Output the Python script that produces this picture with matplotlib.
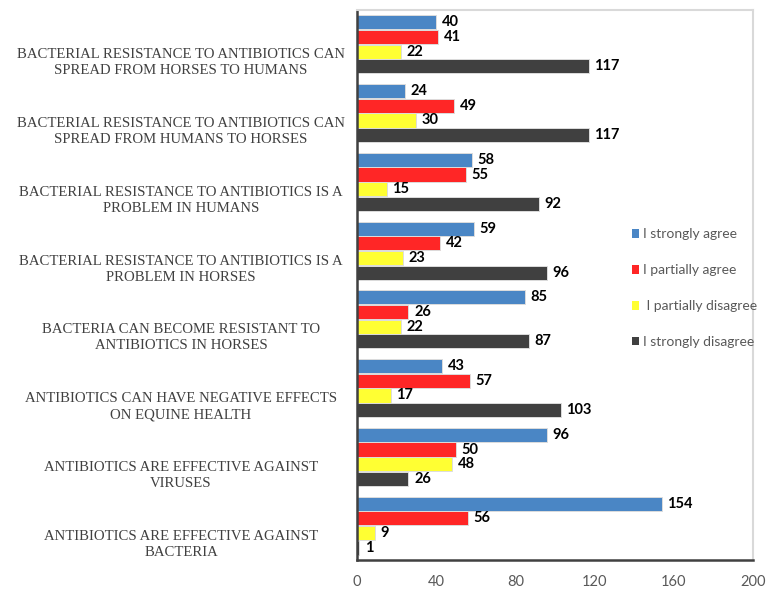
import matplotlib
matplotlib.use("Agg")
import matplotlib.pyplot as plt
import numpy as np
from matplotlib.patches import Patch
from matplotlib.transforms import blended_transform_factory

categories = [
    "BACTERIAL RESISTANCE TO ANTIBIOTICS CAN\nSPREAD FROM HORSES TO HUMANS",
    "BACTERIAL RESISTANCE TO ANTIBIOTICS CAN\nSPREAD FROM HUMANS TO HORSES",
    "BACTERIAL RESISTANCE TO ANTIBIOTICS IS A\nPROBLEM IN HUMANS",
    "BACTERIAL RESISTANCE TO ANTIBIOTICS IS A\nPROBLEM IN HORSES",
    "BACTERIA CAN BECOME RESISTANT TO\nANTIBIOTICS IN HORSES",
    "ANTIBIOTICS CAN HAVE NEGATIVE EFFECTS\nON EQUINE HEALTH",
    "ANTIBIOTICS ARE EFFECTIVE AGAINST\nVIRUSES",
    "ANTIBIOTICS ARE EFFECTIVE AGAINST\nBACTERIA",
]
strongly_agree = [40, 24, 58, 59, 85, 43, 96, 154]
partially_agree = [41, 49, 55, 42, 26, 57, 50, 56]
partially_disagree = [22, 30, 15, 23, 22, 17, 48, 9]
strongly_disagree = [117, 117, 92, 96, 87, 103, 26, 1]
series_names = ["I strongly agree", "I partially agree", " I partially disagree", "I strongly disagree"]
colors = ["#4a86c5", "#ff2626", "#ffff33", "#404040"]
xticks = [0, 40, 80, 120, 160, 200]

fig = plt.figure(figsize=(7.74, 6.01), dpi=100)
ax = fig.add_axes([357/774, 1 - 560/601, (753-357)/774, (560-10)/601])

series = [strongly_agree, partially_agree, partially_disagree, strongly_disagree]
n = len(categories)
y = np.arange(n)
pitch = 0.2135
h = 0.205
for i, (vals, col) in enumerate(zip(series, colors)):
    pos = y - 1.5 * pitch + i * pitch
    bars = ax.barh(pos, vals, height=h, color=col, edgecolor="#dcdcdc", linewidth=0.7)
    for b, v in zip(bars, vals):
        ax.annotate(str(v), (v, b.get_y() + b.get_height() / 2), xytext=(4, 0),
                    textcoords="offset points", va="center", ha="left",
                    fontsize=10.5, fontweight="bold", family="Lato", color="black")

ax.set_ylim(n - 0.5, -0.5)
ax.set_xlim(0, 200)
ax.set_xticks(xticks)
ax.set_xticklabels([str(t) for t in xticks], family="Lato", fontsize=10.5, color="#595959")
ax.tick_params(axis="x", length=0, pad=11)
ax.set_yticks([])

for s in ["left", "bottom"]:
    ax.spines[s].set_color("#404040")
    ax.spines[s].set_linewidth(1.8)
for s in ["top", "right"]:
    ax.spines[s].set_color("#d9d9d9")
    ax.spines[s].set_linewidth(1.5)

tr = blended_transform_factory(fig.transFigure, ax.transData)
for i, lab in enumerate(categories):
    ax.text(181/774, i + 0.27, lab, transform=tr, ha="center", va="center",
            multialignment="center", family="Liberation Serif", fontsize=10.6,
            color="#404040", linespacing=1.3)

handles = [Patch(facecolor=c, edgecolor="none") for c in colors]
leg = fig.legend(handles, series_names, loc="upper left", bbox_to_anchor=(619/774, 1 - 216/601),
                 frameon=False, handlelength=0.55, handleheight=0.55, handletextpad=0.3,
                 labelspacing=1.72, prop={"family": "Lato", "size": 10})
for t in leg.get_texts():
    t.set_color("#595959")

fig.savefig("out.png", dpi=100)
